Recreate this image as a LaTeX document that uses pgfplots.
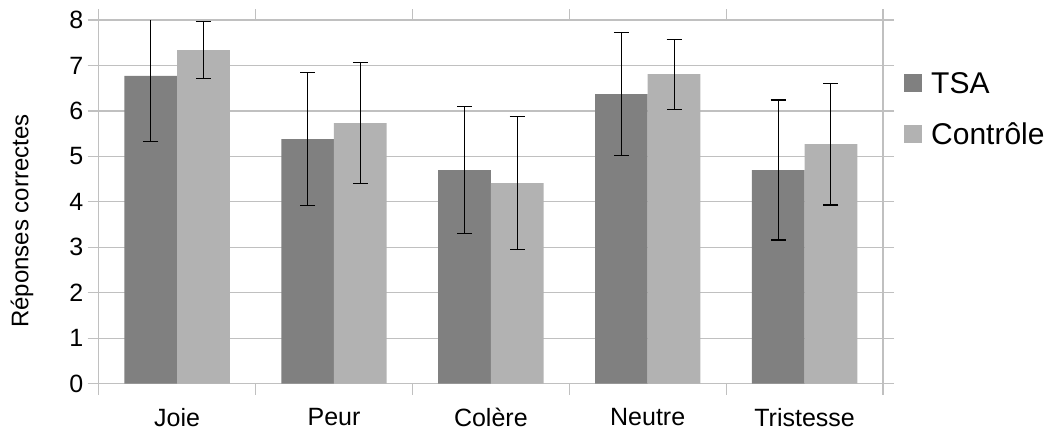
\documentclass[border=0pt]{standalone}
\usepackage{fontspec}
\setmainfont{Liberation Sans}
\usepackage{pgfplots}
\pgfplotsset{compat=1.18}
\definecolor{tsa}{HTML}{808080}
\definecolor{ctrl}{HTML}{B2B2B2}
\definecolor{gridc}{HTML}{C0C0C0}
\begin{document}
\begin{tikzpicture}[x=1pt,y=1pt]
\path[use as bounding box] (0,0) rectangle (1054,432);
\begin{axis}[
  at={(98.7pt,48.3pt)}, anchor=south west,
  scale only axis, width=784.3pt, height=363.7pt,
  xmin=-0.5, xmax=4.5, ymin=0, ymax=8,
  ybar=0pt, bar width=0.336,
  xtick={-0.5,0.5,1.5,2.5,3.5,4.5}, xticklabels={,,,,,},
  extra x ticks={0,1,2,3,4},
  extra x tick labels={Joie,Peur,Colère,Neutre,Tristesse},
  extra x tick style={major tick length=0pt},
  ytick={0,1,...,8},
  ymajorgrids, grid style={gridc, line width=1.2pt},
  axis line style={gridc, line width=1.2pt},
  tick style={gridc, line width=1.2pt},
  tick align=outside, major tick length=11pt,
  /pgf/number format/assume math mode=true,
  tick label style={font=\fontsize{25}{29}\selectfont, text=black},
  xticklabel style={yshift=-21pt},
  yticklabel style={xshift=-1pt},
  ylabel={Réponses correctes},
  ylabel style={font=\fontsize{24}{28}\selectfont, at={(axis description cs:-0.0978,0.447)}, anchor=center},
  legend style={draw=none, fill=none, at={(axis description cs:1,1)}, anchor=north west,
    xshift=21pt, yshift=-50pt, font=\fontsize{30}{34}\selectfont, row sep=24pt, inner sep=0pt},
  legend cell align=left,
  legend image code/.code={\fill[#1] (0pt,-9pt) rectangle (18pt,9pt); \path (25pt,0pt);},
]
\addplot[fill=tsa, draw=none,
  error bars/.cd, y dir=both, y explicit, error mark=|,
  error bar style={draw=black, line width=1.1pt},
  error mark options={draw=black, line width=1.1pt, mark size=7.5pt}]
  coordinates {(0,6.77) +- (0,1.45) (1,5.38) +- (0,1.46) (2,4.70) +- (0,1.40) (3,6.37) +- (0,1.36) (4,4.70) +- (0,1.54)};
\addplot[fill=ctrl, draw=none,
  error bars/.cd, y dir=both, y explicit, error mark=|,
  error bar style={draw=black, line width=1.1pt},
  error mark options={draw=black, line width=1.1pt, mark size=7.5pt}]
  coordinates {(0,7.34) +- (0,0.62) (1,5.73) +- (0,1.33) (2,4.41) +- (0,1.46) (3,6.81) +- (0,0.77) (4,5.27) +- (0,1.34)};
\legend{TSA,Contrôle}
\end{axis}
\end{tikzpicture}
\end{document}
